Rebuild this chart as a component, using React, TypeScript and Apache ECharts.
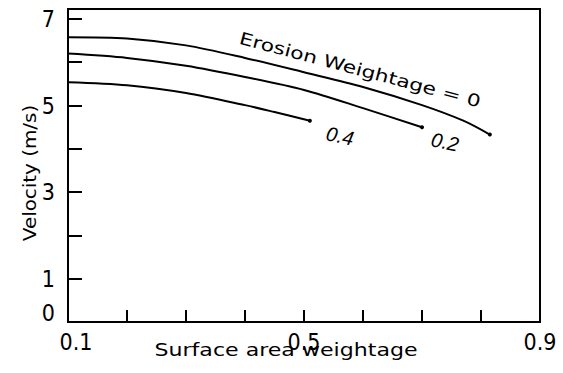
import React, { useEffect, useRef } from "react";
import * as echarts from "echarts";

// Surface area weightage (x) vs velocity (m/s) for three erosion weightages
const ew0X = [0.1, 0.2, 0.3, 0.4, 0.5, 0.6, 0.7, 0.77, 0.815];
const ew0Y = [6.58, 6.55, 6.39, 6.1, 5.77, 5.43, 5.01, 4.65, 4.33];
const ew02X = [0.1, 0.2, 0.3, 0.4, 0.5, 0.6, 0.7];
const ew02Y = [6.2, 6.1, 5.92, 5.66, 5.36, 4.94, 4.5];
const ew04X = [0.1, 0.2, 0.3, 0.4, 0.45, 0.51];
const ew04Y = [5.54, 5.47, 5.29, 5.01, 4.85, 4.65];

const xTickLabels = [0.1, 0.5, 0.9];
const yTickLabels = [0, 1, 3, 5, 7];

const curveLabels = ["Erosion Weightage = 0", "0.2", "0.4"];
const xName = "Surface area weightage";
const yName = "Velocity (m/s)";

const NARROW = "'Liberation Sans Narrow', 'DejaVu Sans Condensed', 'Liberation Sans', Arial, sans-serif";
const SANS = "'DejaVu Sans', 'Liberation Sans', Arial, sans-serif";
const ARIAL = "'Liberation Sans', Arial, sans-serif";

function pairs(xs: number[], ys: number[]) {
  return xs.map((x, i) => [x, ys[i]]);
}

function makeSeries(name: string, xs: number[], ys: number[]) {
  const n = xs.length;
  return {
    name,
    type: "line",
    data: pairs(xs, ys),
    smooth: 0.3,
    symbol: "circle",
    showSymbol: true,
    symbolSize: (_v: any, p: any) => (p.dataIndex === n - 1 ? 4 : 0),
    itemStyle: { color: "#000" },
    lineStyle: { color: "#000", width: 2 },
    silent: true,
  };
}

function near(a: number, b: number) {
  return Math.abs(a - b) < 1e-6;
}

export default function App() {
  const ref = useRef<HTMLDivElement>(null);
  useEffect(() => {
    if (!ref.current) return;
    const chart = echarts.init(ref.current, undefined, { renderer: "svg" });
    chart.setOption({
      animation: false,
      backgroundColor: "#fff",
      grid: {
        left: 68,
        right: 23,
        top: 9,
        bottom: 51,
        show: true,
        borderColor: "#000",
        borderWidth: 2,
        containLabel: false,
        outerBoundsMode: "none",
      },
      xAxis: {
        type: "value",
        min: 0.1,
        max: 0.9,
        interval: 0.1,
        axisLine: { show: true, lineStyle: { color: "#000", width: 2 } },
        axisTick: { show: true, inside: true, length: 12, lineStyle: { color: "#000", width: 2 } },
        splitLine: { show: false },
        axisLabel: {
          margin: 8,
          color: "#000",
          fontSize: 23,
          fontFamily: NARROW,
          showMinLabel: true,
          showMaxLabel: true,
          formatter: (v: number) => {
            const hit = xTickLabels.find((t) => near(t, v));
            if (hit === undefined) return "";
            if (near(hit, 0.1)) return "{a|" + hit.toFixed(1) + "}";
            return hit.toFixed(1);
          },
          rich: {
            a: { fontSize: 23, fontFamily: NARROW, color: "#000", padding: [0, 0, 0, 16] },
          },
        },
      },
      yAxis: {
        type: "value",
        min: 0,
        max: 7.23,
        interval: 1,
        axisLine: { show: true, lineStyle: { color: "#000", width: 2 } },
        axisTick: { show: true, inside: true, length: 14, lineStyle: { color: "#000", width: 2 } },
        splitLine: { show: false },
        axisLabel: {
          margin: 13,
          color: "#000",
          fontSize: 23,
          fontFamily: NARROW,
          showMaxLabel: false,
          formatter: (v: number) => {
            const hit = yTickLabels.find((t) => near(t, v));
            if (hit === undefined) return "";
            if (hit === 0) return "{z|0}";
            return String(hit);
          },
          rich: {
            z: { fontSize: 23, fontFamily: NARROW, color: "#000", padding: [0, 0, 18, 0] },
          },
        },
      },
      series: [
        makeSeries("0", ew0X, ew0Y),
        makeSeries("0.2", ew02X, ew02Y),
        makeSeries("0.4", ew04X, ew04Y),
      ],
      graphic: [
        {
          type: "text",
          x: 286,
          y: 350,
          scaleX: 1.3,
          style: {
            text: xName,
            fontSize: 17,
            fontFamily: SANS,
            fill: "#000",
            align: "center",
            verticalAlign: "middle",
          },
        },
        {
          type: "text",
          x: 30,
          y: 173,
          rotation: Math.PI / 2,
          scaleX: 1.17,
          style: {
            text: yName,
            fontSize: 17,
            fontFamily: SANS,
            fill: "#000",
            align: "center",
            verticalAlign: "middle",
          },
        },
        {
          type: "text",
          x: 360,
          y: 70,
          rotation: -0.26,
          scaleX: 1.28,
          style: {
            text: curveLabels[0],
            fontSize: 17,
            fontFamily: SANS,
            fill: "#000",
            align: "center",
            verticalAlign: "middle",
          },
        },
        {
          type: "text",
          x: 445,
          y: 142,
          rotation: -0.2,
          style: {
            text: curveLabels[1],
            fontSize: 20,
            fontStyle: "italic",
            fontFamily: ARIAL,
            fill: "#000",
            align: "center",
            verticalAlign: "middle",
          },
        },
        {
          type: "text",
          x: 340,
          y: 136,
          rotation: -0.2,
          style: {
            text: curveLabels[2],
            fontSize: 20,
            fontStyle: "italic",
            fontFamily: ARIAL,
            fill: "#000",
            align: "center",
            verticalAlign: "middle",
          },
        },
      ],
    });
    return () => chart.dispose();
  }, []);
  return (
    <div
      ref={ref}
      style={{ position: "fixed", left: 0, top: 0, width: 563, height: 373, background: "#fff" }}
    />
  );
}
